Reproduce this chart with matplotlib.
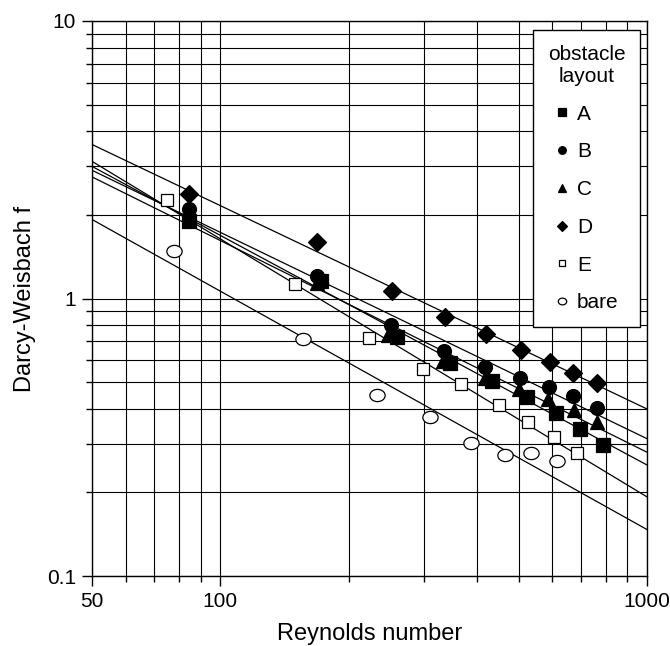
import numpy as np
import matplotlib
matplotlib.use('Agg')
import matplotlib.pyplot as plt
from matplotlib.path import Path
from matplotlib.ticker import FixedLocator, NullFormatter

plt.rcParams['font.family'] = ['Liberation Sans', 'DejaVu Sans']

# ---------------- data ----------------
re_A = [84.4, 172.4, 259.8, 345.4, 434.3, 522.4, 611.9, 696.5, 789.5]
f_A = [1.90, 1.155, 0.727, 0.587, 0.505, 0.441, 0.387, 0.339, 0.297]

re_B = [84.4, 168.2, 250.7, 334.3, 417.1, 503.8, 589.2, 671.8, 762.0]
f_B = [2.10, 1.203, 0.804, 0.649, 0.568, 0.515, 0.478, 0.444, 0.403]

re_C = [84.4, 168.0, 247.1, 331.9, 417.0, 501.0, 586.9, 674.4, 762.0]
f_C = [1.95, 1.133, 0.741, 0.595, 0.519, 0.471, 0.434, 0.396, 0.360]

re_D = [84.6, 168.4, 252.0, 335.2, 419.4, 505.6, 592.4, 671.8, 764.5]
f_D = [2.387, 1.60, 1.066, 0.857, 0.745, 0.651, 0.592, 0.541, 0.494]

re_E = [74.8, 149.8, 223.4, 299.0, 367.4, 450.5, 525.2, 605.3, 684.3]
f_E = [2.262, 1.127, 0.719, 0.556, 0.491, 0.413, 0.358, 0.316, 0.278]

re_bare = [77.8, 156.1, 232.5, 309.9, 387.3, 464.6, 534.6, 614.3]
f_bare = [1.482, 0.715, 0.450, 0.373, 0.302, 0.272, 0.277, 0.259]

# slightly flattened circle for the open "bare" markers
t = np.linspace(0, 2*np.pi, 60)
oval = Path(np.column_stack([np.cos(t), 0.8*np.sin(t)]), closed=True)

# name, x, y, marker, face colour, size
series = [('A', re_A, f_A, 's', 'black', 9.5),
          ('B', re_B, f_B, 'o', 'black', 10),
          ('C', re_C, f_C, '^', 'black', 10),
          ('D', re_D, f_D, 'D', 'black', 9),
          ('E', re_E, f_E, 's', 'white', 9),
          ('bare', re_bare, f_bare, oval, 'white', 11)]

# ---------------- figure ----------------
fig = plt.figure(figsize=(6.7, 6.46), dpi=100)
ax = fig.add_axes([92/670, (646-576)/646, 555/670, 555/646])
ax.set_xscale('log')
ax.set_yscale('log')

xfit = np.array([50, 1000])
for name, re, f, mk, fc, ms in series:
    # power-law regression line through each set
    p = np.polyfit(np.log10(re), np.log10(f), 1)
    ax.plot(xfit, 10**np.polyval(p, np.log10(xfit)), color='black', lw=0.9, zorder=3)

for name, re, f, mk, fc, ms in series:
    ax.plot(re, f, linestyle='none', marker=mk, ms=ms, mfc=fc, mec='black',
            mew=0.9, label=name, zorder=4)

ax.set_xlim(50, 1000)
ax.set_ylim(0.1, 10)

ax.xaxis.set_major_locator(FixedLocator([50, 100, 1000]))
ax.set_xticklabels(['50', '100', '1000'])
ax.xaxis.set_minor_locator(FixedLocator([60, 70, 80, 90, 200, 300, 400, 500, 600, 700, 800, 900]))
ax.xaxis.set_minor_formatter(NullFormatter())
ax.yaxis.set_major_locator(FixedLocator([0.1, 1, 10]))
ax.set_yticklabels(['0.1', '1', '10'])
ax.yaxis.set_minor_locator(FixedLocator([0.2, 0.3, 0.4, 0.5, 0.6, 0.7, 0.8, 0.9,
                                         2, 3, 4, 5, 6, 7, 8, 9]))
ax.yaxis.set_minor_formatter(NullFormatter())

ax.grid(True, which='both', color='black', lw=0.8)
ax.tick_params(which='major', direction='out', length=7.5, width=1, labelsize=15,
               color='black', pad=4)
ax.tick_params(which='minor', direction='out', length=4.5, width=1)
for s in ax.spines.values():
    s.set_linewidth(1)

ax.set_xlabel('Reynolds number', fontsize=17, labelpad=9)
ax.set_ylabel('Darcy-Weisbach f', fontsize=17, labelpad=8)

leg = ax.legend(title='obstacle\nlayout', loc='upper right', bbox_to_anchor=(0.988, 0.984),
                borderaxespad=0, fancybox=False, framealpha=1, edgecolor='black',
                fontsize=15, title_fontsize=15, markerscale=0.55, handlelength=0.7,
                handletextpad=0.4, labelspacing=0.9, borderpad=0.72)
leg.get_title().set_multialignment('center')
leg.get_frame().set_linewidth(1)
leg.set_zorder(10)

fig.savefig('out.png', dpi=100)
